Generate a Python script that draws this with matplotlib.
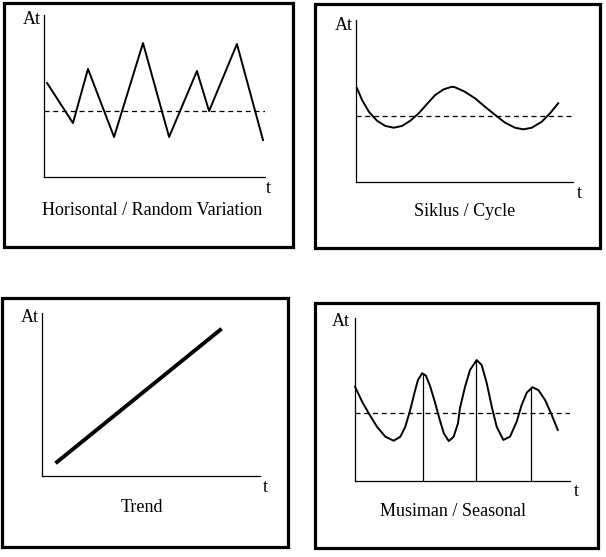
import numpy as np
import matplotlib
matplotlib.use("Agg")
import matplotlib.pyplot as plt
from matplotlib.patches import Rectangle

plt.rcParams["font.family"] = ["Liberation Serif", "DejaVu Serif"]

W, H = 606, 557

# ---- data (t and At in arbitrary 0..10 units) ----
# Horisontal / Random Variation
t_rand = [0.14, 1.31, 1.99, 3.17, 4.48, 5.66, 6.92, 7.47, 8.73, 9.91]
a_rand = [5.80, 3.33, 6.67, 2.47, 8.27, 2.47, 6.54, 4.07, 8.21, 2.28]
mean_rand = 4.1

# Siklus / Cycle
t_cyc = [0.05, 0.28, 0.59, 0.97, 1.35, 1.74, 2.12, 2.50, 2.89, 3.27,
         3.65, 4.04, 4.42, 4.56, 5.02, 5.48, 5.94, 6.41, 6.87, 7.33,
         7.71, 8.10, 8.56, 8.94, 9.32]
a_cyc = [5.78, 5.06, 4.34, 3.78, 3.46, 3.35, 3.46, 3.78, 4.24, 4.81,
         5.37, 5.72, 5.88, 5.85, 5.57, 5.17, 4.65, 4.14, 3.66, 3.35,
         3.25, 3.35, 3.72, 4.24, 4.86]
mean_cyc = 4.1

# Trend
t_trend = [0.69, 8.17]
a_trend = [0.86, 8.96]

# Musiman / Seasonal
t_sea = [0.00, 0.33, 0.64, 1.02, 1.41, 1.80, 2.11, 2.34, 2.57, 2.78,
         2.93, 3.12, 3.30, 3.50, 3.71, 3.92, 4.13, 4.36, 4.59, 4.79,
         4.88, 5.12, 5.35, 5.66, 5.89, 6.13, 6.36, 6.59, 6.90, 7.21,
         7.52, 7.75, 7.99, 8.25, 8.53, 8.84, 9.15, 9.43]
a_sea = [5.79, 4.87, 4.15, 3.33, 2.72, 2.47, 2.72, 3.33, 4.36, 5.48,
         6.20, 6.61, 6.46, 5.79, 4.87, 3.85, 2.93, 2.45, 2.72, 3.54,
         4.46, 5.79, 6.81, 7.42, 7.12, 5.99, 4.56, 3.33, 2.52, 2.72,
         3.64, 4.66, 5.42, 5.75, 5.58, 4.97, 4.05, 3.13]
peak_t = [3.14, 5.63, 8.19]
peak_a = [6.61, 7.42, 5.75]
mean_sea = 4.15

fig = plt.figure(figsize=(W / 100, H / 100), dpi=100)


def px_axes(x0, y0, x1, y1):
    # axes from pixel box (top-left origin)
    ax = fig.add_axes([x0 / W, 1 - y1 / H, (x1 - x0) / W, (y1 - y0) / H])
    ax.set_xlim(0, 10)
    ax.set_ylim(0, 10)
    ax.spines['right'].set_visible(False)
    ax.spines['top'].set_visible(False)
    for s in ['left', 'bottom']:
        ax.spines[s].set_linewidth(0.9)
    ax.set_xticks([])
    ax.set_yticks([])
    ax.patch.set_alpha(0)
    return ax


def box(x0, y0, x1, y1):
    fig.add_artist(Rectangle((x0 / W, 1 - y1 / H), (x1 - x0) / W, (y1 - y0) / H,
                             transform=fig.transFigure, fill=False,
                             lw=2.3, edgecolor='black'))


def txt(x, y, s, ha='center', size=13):
    fig.text(x / W, 1 - y / H, s, ha=ha, va='center', fontsize=size)


# frames
box(4, 3, 293, 247)
box(315, 4, 600, 248)
box(2, 298, 288, 547)
box(315, 303, 598, 548)

# panel 1
ax1 = px_axes(44, 15, 265, 177)
ax1.plot(t_rand, a_rand, color='black', lw=1.4, clip_on=False)
ax1.plot([0, 10], [mean_rand, mean_rand], color='black', lw=0.9, ls=(0, (4, 3)))
txt(41, 20, 'At', ha='right')
txt(268, 189, 't')
txt(152, 210, 'Horisontal / Random Variation')

# panel 2
ax2 = px_axes(356, 20, 573, 182)
ax2.plot(t_cyc, a_cyc, color='black', lw=1.4, clip_on=False)
ax2.plot([0, 10], [mean_cyc, mean_cyc], color='black', lw=0.9, ls=(0, (4, 3)))
txt(353, 25, 'At', ha='right')
txt(579, 193, 't')
txt(465, 212, 'Siklus / Cycle')

# panel 3
ax3 = px_axes(42, 313, 260, 476)
ax3.plot(t_trend, a_trend, color='black', lw=2.8, clip_on=False)
txt(39, 318, 'At', ha='right')
txt(265, 488, 't')
txt(142, 508, 'Trend')

# panel 4
ax4 = px_axes(355, 318, 570, 481)
ax4.plot(t_sea, a_sea, color='black', lw=1.4, clip_on=False)
ax4.vlines(peak_t, 0, peak_a, color='black', lw=0.9)
ax4.plot([0, 10], [mean_sea, mean_sea], color='black', lw=0.9, ls=(0, (4, 3)))
txt(350, 322, 'At', ha='right')
txt(576, 492, 't')
txt(453, 511, 'Musiman / Seasonal')

plt.savefig('out.png', dpi=100)
